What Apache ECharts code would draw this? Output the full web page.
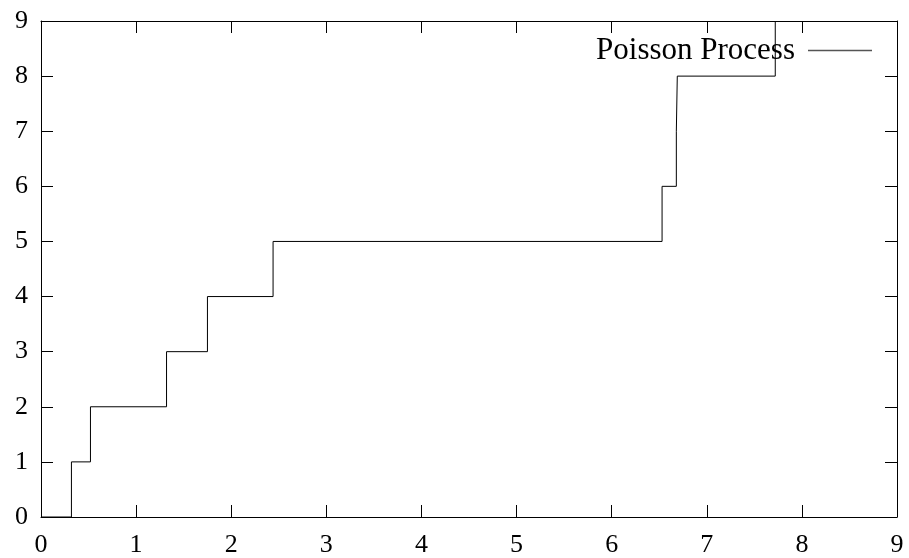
<!DOCTYPE html>
<html>
<head>
<meta charset="utf-8">
<script src="https://cdn.jsdelivr.net/npm/echarts@6/dist/echarts.min.js"></script>
<style>html,body{margin:0;padding:0;background:#fff}#c{width:909px;height:558px}</style>
</head>
<body>
<div id="c"></div>
<script>
const seriesName = 'Poisson Process';
const jumpTimes = [0.32, 0.52, 1.32, 1.75, 2.44, 6.53, 6.68, 6.69, 7.72];
const counts = [1, 2, 3, 4, 5, 6, 7, 8, 9];
const xTicks = [0, 1, 2, 3, 4, 5, 6, 7, 8, 9];
const yTicks = [0, 1, 2, 3, 4, 5, 6, 7, 8, 9];

const data = [[0, 0]].concat(jumpTimes.map((t, i) => [t, counts[i]]));
const font = 'Liberation Serif';
const chart = echarts.init(document.getElementById('c'), null, {renderer: 'canvas'});
const axisBase = {
  type: 'value', min: xTicks[0], max: xTicks[xTicks.length - 1], interval: 1,
  splitLine: {show: false},
  axisLine: {show: true, onZero: false, lineStyle: {color: '#000', width: 1}},
  axisTick: {show: true, inside: true, length: 12, lineStyle: {color: '#000', width: 1}}
};
chart.setOption({
  animation: false,
  backgroundColor: '#fff',
  grid: {left: 41, right: 12, top: 21, bottom: 39, containLabel: false},
  xAxis: [
    Object.assign({}, axisBase, {position: 'bottom',
      axisLabel: {show: true, color: '#000', fontFamily: font, fontSize: 26, margin: 15}}),
    Object.assign({}, axisBase, {position: 'top', axisLabel: {show: false}})
  ],
  yAxis: [
    Object.assign({}, axisBase, {min: yTicks[0], max: yTicks[yTicks.length - 1], position: 'left',
      axisLabel: {show: true, color: '#000', fontFamily: font, fontSize: 26, margin: 13}}),
    Object.assign({}, axisBase, {min: yTicks[0], max: yTicks[yTicks.length - 1], position: 'right', axisLabel: {show: false}})
  ],
  legend: {
    show: true, right: 32, top: 30, align: 'right', orient: 'horizontal',
    icon: 'rect', itemWidth: 64, itemHeight: 1.5,
    itemStyle: {color: '#555'},
    textStyle: {color: '#000', fontFamily: font, fontSize: 31, padding: [0, 8, 0, 0]},
    data: [seriesName]
  },
  series: [{
    name: seriesName, type: 'line', step: 'end', showSymbol: false, symbol: 'none',
    xAxisIndex: 0, yAxisIndex: 0,
    lineStyle: {color: '#000', width: 1}, itemStyle: {color: '#000'},
    data: data, clip: true
  }]
});
</script>
</body>
</html>
